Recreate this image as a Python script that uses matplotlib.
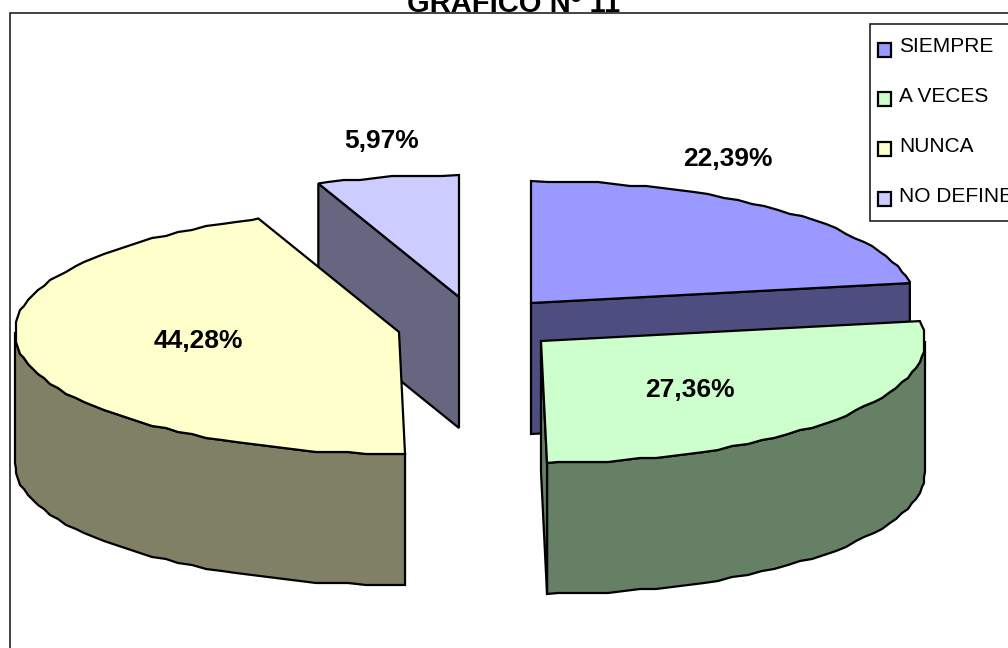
import numpy as np
from matplotlib import pyplot as plt
from matplotlib.patches import Polygon, Rectangle

plt.rcParams['font.family'] = ['Liberation Sans', 'DejaVu Sans']

categories = ['SIEMPRE', 'A VECES', 'NUNCA', 'NO DEFINE']
values = [22.39, 27.36, 44.28, 5.97]
pctLabels = ['22,39%', '27,36%', '44,28%', '5,97%']
title = 'GRÁFICO Nº 11'

topColors = ['#9999FF', '#CCFFCC', '#FFFFCC', '#CCCCFF']
sideColors = ['#4D4D80', '#668066', '#808066', '#666680']

# pie geometry in image pixels
rx, ry, depth = 384, 122, 131
centers = [(531, 303), (541, 341), (399, 332), (459, 297)]
labelPos = [(728, 159), (690, 390), (198, 341), (382, 141)]
grid = 2   # the rims of the original are stepped
step = 2.5


def rim(cx, cy, a0, a1):
    inner = np.arange(np.ceil(a0/step + 1e-6), np.floor(a1/step - 1e-6) + 1) * step
    a = np.concatenate([[a0], inner, [a1]])
    t = np.radians(a)
    pts = np.column_stack([cx + rx*np.sin(t), cy - ry*np.cos(t)])
    pts[1:-1] = np.round(pts[1:-1] / grid) * grid
    return pts


def drawSlice(ax, center, a0, a1, top, side, z):
    cx, cy = center
    down = np.array([0, depth])
    edge = rim(cx, cy, a0, a1)

    # outer wall, only the part of the rim that faces the viewer
    w0, w1 = max(a0, 90), min(a1, 270)
    if w0 < w1:
        wall = rim(cx, cy, w0, w1)
        ax.add_patch(Polygon(np.vstack([wall, (wall + down)[::-1]]), fc=side, ec='black', lw=1.6, zorder=z))

    # cut faces, only those turned to the viewer
    if 180 < a0 < 360:
        end = edge[0]
        ax.add_patch(Polygon([(cx, cy), end, end + down, (cx, cy + depth)], fc=side, ec='black', lw=1.6, zorder=z))
    if 0 < a1 < 180:
        end = edge[-1]
        ax.add_patch(Polygon([(cx, cy), end, end + down, (cx, cy + depth)], fc=side, ec='black', lw=1.6, zorder=z))

    ax.add_patch(Polygon(np.vstack([[(cx, cy)], edge]), fc=top, ec='black', lw=1.6, zorder=z + 0.5))


fig = plt.figure(figsize=(10.08, 6.48), dpi=100)
ax = fig.add_axes([0, 0, 1, 1])
ax.set_xlim(0, 1008)
ax.set_ylim(648, 0)
ax.axis('off')

ax.add_patch(Rectangle((9.5, 12.5), 1100, 700, fc='white', ec='#222222', lw=1.2, zorder=0))

angles = np.concatenate([[0], np.cumsum(values)]) * 3.6
order = [3, 0, 2, 1]   # back slices first
for i in order:
    drawSlice(ax, centers[i], angles[i], angles[i + 1], topColors[i], sideColors[i], 2 + order.index(i))

for i, lab in enumerate(pctLabels):
    ax.text(labelPos[i][0], labelPos[i][1], lab, fontsize=19, fontweight='bold', ha='center', va='center', zorder=10)

ax.text(514, 12, title, fontsize=21, fontweight='bold', ha='center', va='baseline', zorder=1)

# legend
ax.add_patch(Rectangle((869.5, 23.5), 200, 197, fc='white', ec='#222222', lw=1.2, zorder=11))
for i, cat in enumerate(categories):
    ax.add_patch(Rectangle((877.5, 42.5 + i*49.7), 13, 14, fc=topColors[i], ec='black', lw=1.6, zorder=12))
    ax.text(899, 52 + i*50, cat, fontsize=15, ha='left', va='baseline', zorder=12)

fig.savefig('out.png', dpi=100)
